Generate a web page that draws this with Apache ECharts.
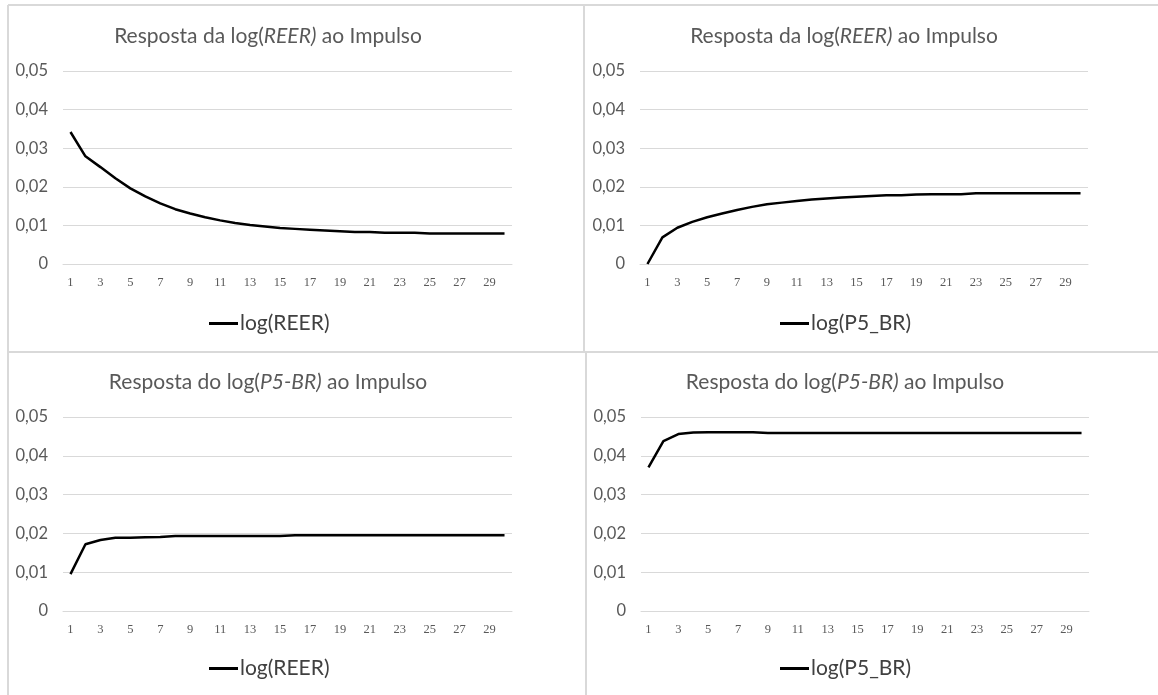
<!DOCTYPE html>
<html>
<head>
<meta charset="utf-8">
<script src="https://cdn.jsdelivr.net/npm/echarts@6/dist/echarts.min.js"></script>
<style>
  html, body { margin: 0; padding: 0; background: #fff; }
  #main { width: 1158px; height: 695px; }
</style>
</head>
<body>
<div id="main"></div>
<script>
// periodos 1..30
var periods = [];
for (var p = 1; p <= 30; p++) periods.push(String(p));

// resposta da log(REER) ao impulso em log(REER)
var reerToReer = [0.0342, 0.0279, 0.0251, 0.0222, 0.0196, 0.0175, 0.0157, 0.0142, 0.0131, 0.0121,
  0.0113, 0.0106, 0.0101, 0.0097, 0.0093, 0.0091, 0.0089, 0.0087, 0.0085, 0.0083,
  0.0083, 0.0081, 0.0081, 0.0081, 0.0079, 0.0079, 0.0079, 0.0079, 0.0079, 0.0079];
// resposta da log(REER) ao impulso em log(P5_BR)
var reerToP5 = [0.0000, 0.0069, 0.0094, 0.0109, 0.0121, 0.0131, 0.0140, 0.0148, 0.0155, 0.0159,
  0.0163, 0.0167, 0.0170, 0.0172, 0.0174, 0.0176, 0.0178, 0.0178, 0.0180, 0.0181,
  0.0181, 0.0181, 0.0183, 0.0183, 0.0183, 0.0183, 0.0183, 0.0183, 0.0183, 0.0183];
// resposta do log(P5-BR) ao impulso em log(REER)
var p5ToReer = [0.0095, 0.0172, 0.0183, 0.0189, 0.0189, 0.0190, 0.0191, 0.0193, 0.0193, 0.0193,
  0.0193, 0.0193, 0.0193, 0.0193, 0.0193, 0.0195, 0.0195, 0.0195, 0.0195, 0.0195,
  0.0195, 0.0195, 0.0195, 0.0195, 0.0195, 0.0195, 0.0195, 0.0195, 0.0195, 0.0195];
// resposta do log(P5-BR) ao impulso em log(P5_BR)
var p5ToP5 = [0.0370, 0.0438, 0.0456, 0.0460, 0.0461, 0.0461, 0.0461, 0.0461, 0.0459, 0.0459,
  0.0459, 0.0459, 0.0459, 0.0459, 0.0459, 0.0459, 0.0459, 0.0459, 0.0459, 0.0459,
  0.0459, 0.0459, 0.0459, 0.0459, 0.0459, 0.0459, 0.0459, 0.0459, 0.0459, 0.0459];

var titles = ['Resposta da log({i|REER)} ao Impulso', 'Resposta da log({i|REER)} ao Impulso',
  'Resposta do log({i|P5-BR)} ao Impulso', 'Resposta do log({i|P5-BR)} ao Impulso'];
var seriesNames = ['log(REER)', 'log(P5_BR)', 'log(REER)', 'log(P5_BR)'];
var seriesData = [reerToReer, reerToP5, p5ToReer, p5ToP5];

// posicoes de cada painel
var panels = [
  { grid: { left: 63, top: 71, width: 449, height: 193 }, titleX: 263, titleY: 21, legX: 204, legY: 308 },
  { grid: { left: 640, top: 71, width: 448, height: 193 }, titleX: 839, titleY: 21, legX: 775, legY: 308 },
  { grid: { left: 63, top: 417, width: 449, height: 194 }, titleX: 263, titleY: 367, legX: 204, legY: 653 },
  { grid: { left: 641, top: 417, width: 448, height: 194 }, titleX: 840, titleY: 367, legX: 775, legY: 653 }
];

var chart = echarts.init(document.getElementById('main'));

var grey = '#595959';
var option = {
  animation: false,
  backgroundColor: '#fff',
  title: [], legend: [], grid: [], xAxis: [], yAxis: [], series: [],
  graphic: []
};

panels.forEach(function (pn, i) {
  option.title.push({
    text: titles[i],
    left: pn.titleX,
    top: pn.titleY,
    textAlign: 'center',
    textStyle: {
      fontFamily: 'Lato', fontSize: 21, fontWeight: 'normal', color: grey,
      rich: { i: { fontFamily: 'Lato', fontSize: 21, fontStyle: 'italic', color: grey } }
    }
  });
  option.legend.push({
    data: [seriesNames[i]],
    left: pn.legX,
    top: pn.legY,
    icon: 'rect',
    itemWidth: 29,
    itemHeight: 3,
    selectedMode: false,
    textStyle: { fontFamily: 'Lato', fontSize: 21, color: '#404040', padding: [0, 0, 0, -3] }
  });
  option.grid.push(Object.assign({ containLabel: false }, pn.grid));
  option.xAxis.push({
    type: 'category',
    gridIndex: i,
    data: periods,
    boundaryGap: true,
    axisLine: { lineStyle: { color: '#d9d9d9', width: 1 } },
    axisTick: { show: false },
    axisLabel: {
      interval: 1, margin: 12,
      fontFamily: 'Liberation Serif', fontSize: 12.5, color: grey
    }
  });
  option.yAxis.push({
    type: 'value',
    gridIndex: i,
    min: 0, max: 0.05, interval: 0.01,
    axisLine: { show: false },
    axisTick: { show: false },
    splitLine: { lineStyle: { color: '#d9d9d9', width: 1 } },
    axisLabel: {
      margin: 15, fontFamily: 'Lato', fontSize: 16.5, color: grey,
      formatter: function (v) { return v === 0 ? '0' : v.toFixed(2).replace('.', ','); }
    }
  });
  option.series.push({
    name: seriesNames[i],
    type: 'line',
    xAxisIndex: i,
    yAxisIndex: i,
    data: seriesData[i],
    symbol: 'none',
    itemStyle: { color: '#000' },
    lineStyle: { color: '#000', width: 2.5 }
  });
});

// bordas dos paineis
var bc = { stroke: '#d9d9d9', lineWidth: 2 };
option.graphic = [
  { type: 'line', shape: { x1: 8, y1: 5, x2: 1158, y2: 5 }, style: bc },
  { type: 'line', shape: { x1: 8, y1: 5, x2: 8, y2: 695 }, style: bc },
  { type: 'line', shape: { x1: 584, y1: 5, x2: 584, y2: 352 }, style: bc },
  { type: 'line', shape: { x1: 586, y1: 352, x2: 586, y2: 695 }, style: bc },
  { type: 'line', shape: { x1: 8, y1: 352, x2: 1158, y2: 352 }, style: bc }
];

chart.setOption(option);
</script>
</body>
</html>
